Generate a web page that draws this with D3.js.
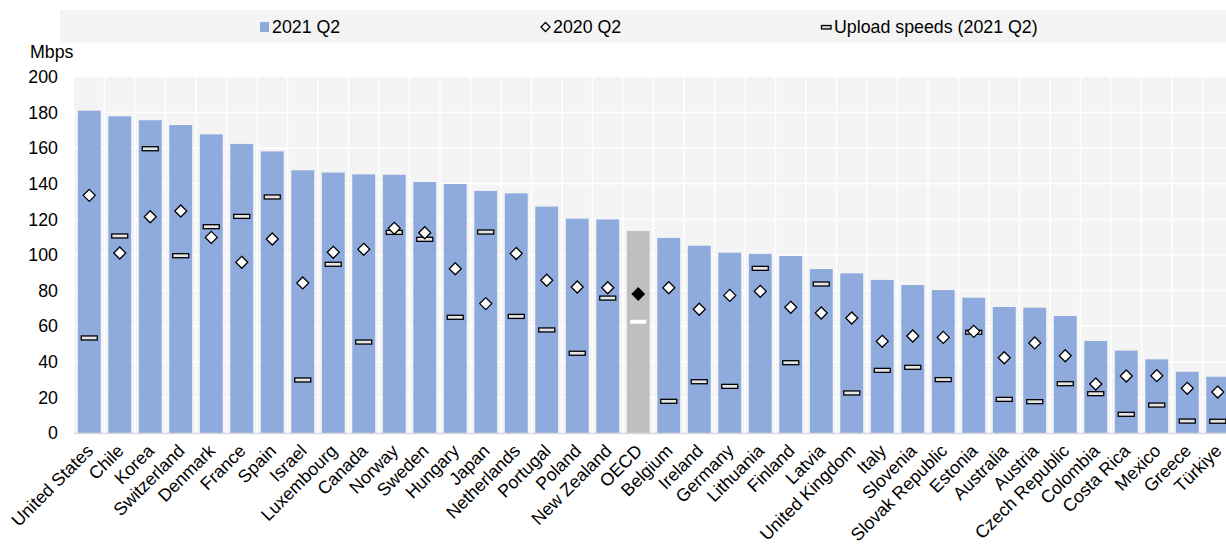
<html>
<head>
  <title>Download speeds</title>
  <meta charset="utf-8" />
<script src="https://d3js.org/d3.v7.min.js"></script>
</head>
<style>
  body { margin: 0; background: #fff; }
  svg { display: block; font-family: "Liberation Sans", Arial, sans-serif; }
</style>
<body>
<svg class="main" width="1226" height="545"></svg>
<script>

// categories, left to right
const countries = ["United States", "Chile", "Korea", "Switzerland", "Denmark", "France", "Spain", "Israel",
  "Luxembourg", "Canada", "Norway", "Sweden", "Hungary", "Japan", "Netherlands", "Portugal", "Poland",
  "New Zealand", "OECD", "Belgium", "Ireland", "Germany", "Lithuania", "Finland", "Latvia", "United Kingdom",
  "Italy", "Slovenia", "Slovak Republic", "Estonia", "Australia", "Austria", "Czech Republic", "Colombia",
  "Costa Rica", "Mexico", "Greece", "Türkiye"]

// bars: 2021 Q2 download
const q2_2021 = [181.1, 177.9, 175.7, 173, 167.8, 162.4, 158.2, 147.6, 146.3, 145.3, 145.1, 141, 139.9, 136,
  134.6, 127.2, 120.4, 120, 113.5, 109.6, 105.2, 101.3, 100.6, 99.4, 92.1, 89.7, 86, 83.1, 80.3, 76, 70.8,
  70.4, 65.7, 51.7, 46.3, 41.4, 34.4, 31.6]

// diamonds: 2020 Q2 download
const q2_2020 = [133.5, 101.1, 121.5, 124.7, 109.9, 95.9, 109, 84.3, 101.5, 103.2, 115, 112.5, 92.3, 72.7,
  100.8, 85.8, 82, 81.6, 78.1, 81.6, 69.5, 77.3, 79.6, 70.6, 67.4, 64.6, 51.5, 54.5, 53.7, 57.1, 42.3, 50.6,
  43.4, 27.5, 32, 32.2, 25.1, 23]

// dashes: upload 2021 Q2
const upload = [53.4, 110.7, 159.7, 99.6, 115.9, 121.7, 132.6, 29.8, 94.8, 51.1, 112.7, 108.8, 65, 112.9,
  65.5, 57.9, 44.8, 75.8, 62.5, 17.8, 28.8, 26.2, 92.5, 39.5, 83.7, 22.5, 35.2, 36.9, 30, 56.6, 18.9, 17.6,
  27.7, 22.1, 10.5, 15.7, 6.7, 6.6]

const yTicks = [0, 20, 40, 60, 80, 100, 120, 140, 160, 180, 200]
const legendItems = ["2021 Q2", "2020 Q2", "Upload speeds (2021 Q2)"]

const data = countries.map((c, i) => ({ c, v21: q2_2021[i], v20: q2_2020[i], up: upload[i] }))

const left = 74, step = 30.5
const fs = "17.8px"
const x = d3.scaleBand()
  .domain(countries)
  .range([left, left + countries.length * step])
  .paddingInner(0.25)
  .paddingOuter(0.125)

const y = d3.scaleLinear().domain([0, 200]).range([433, 77])

const svg = d3.select("svg")

// legend
svg.append("rect")
  .attr("x", 60).attr("y", 10).attr("width", 1166).attr("height", 33)
  .style("fill", "#f4f4f4")

const lg = svg.append("g").style("font-size", fs)
lg.append("rect").attr("x", 260).attr("y", 22).attr("width", 9).attr("height", 10).style("fill", "#8faadc")
lg.append("text").attr("x", 272).attr("y", 33).text(legendItems[0])
lg.append("path").attr("d", "M545.5,22.5 L550,27 L545.5,31.5 L541,27 Z")
  .style("fill", "#fff").style("stroke", "#000").style("stroke-width", 1.3)
lg.append("text").attr("x", 553).attr("y", 33).text(legendItems[1])
lg.append("rect").attr("x", 821.5).attr("y", 25.5).attr("width", 9.5).attr("height", 3.5)
  .style("fill", "#d9d9d9").style("stroke", "#000").style("stroke-width", 1.3)
lg.append("text").attr("x", 834).attr("y", 33).text(legendItems[2])

// plot background + grid
svg.append("rect")
  .attr("x", left).attr("y", y(200))
  .attr("width", countries.length * step).attr("height", y(0) - y(200))
  .style("fill", "#f4f4f4")

svg.append("g")
  .selectAll("line")
  .data(yTicks.filter(t => t > 0 && t < 200))
  .enter()
  .append("line")
  .attr("x1", left).attr("x2", left + countries.length * step)
  .attr("y1", d => y(d)).attr("y2", d => y(d))
  .style("stroke", "#fff").style("stroke-width", 1.5)

svg.append("g")
  .selectAll("line")
  .data(countries.slice(1))
  .enter()
  .append("line")
  .attr("x1", d => x(d) - step * 0.125).attr("x2", d => x(d) - step * 0.125)
  .attr("y1", y(200)).attr("y2", y(0))
  .style("stroke", "#fff").style("stroke-width", 1.5)

// bars
svg.append("g")
  .selectAll("rect")
  .data(data)
  .enter()
  .append("rect")
  .attr("x", d => x(d.c))
  .attr("width", x.bandwidth())
  .attr("y", d => y(d.v21))
  .attr("height", d => y(0) - y(d.v21))
  .style("fill", d => d.c === "OECD" ? "#bfbfbf" : "#8faadc")

// baseline
svg.append("line")
  .attr("x1", left).attr("x2", left + countries.length * step)
  .attr("y1", y(0) + 0.5).attr("y2", y(0) + 0.5)
  .style("stroke", "#d9d9d9").style("stroke-width", 1.5)

// upload dashes
svg.append("g")
  .selectAll("rect")
  .data(data)
  .enter()
  .append("rect")
  .attr("x", d => x(d.c) + x.bandwidth() / 2 - 8)
  .attr("y", d => y(d.up) - 2)
  .attr("width", 16).attr("height", 4)
  .style("fill", d => d.c === "OECD" ? "#fff" : "#e6e6e6")
  .style("stroke", d => d.c === "OECD" ? "none" : "#000")
  .style("stroke-width", 1.3)

// 2020 diamonds
const dia = "M0,-6 L6,0 L0,6 L-6,0 Z"
svg.append("g")
  .selectAll("path")
  .data(data)
  .enter()
  .append("path")
  .attr("d", dia)
  .attr("transform", d => `translate(${x(d.c) + x.bandwidth() / 2},${y(d.v20)})`)
  .style("fill", d => d.c === "OECD" ? "#000" : "#fff")
  .style("stroke", "#000")
  .style("stroke-width", 1.3)

// y axis labels
svg.append("g")
  .selectAll("text")
  .data(yTicks)
  .enter()
  .append("text")
  .attr("x", 58)
  .attr("y", d => y(d))
  .attr("dy", "0.35em")
  .attr("text-anchor", "end")
  .style("font-size", fs)
  .text(d => d)

svg.append("text")
  .attr("x", 30).attr("y", 58)
  .style("font-size", fs)
  .text("Mbps")

// x labels
svg.append("g")
  .selectAll("text")
  .data(countries)
  .enter()
  .append("text")
  .attr("text-anchor", "end")
  .attr("transform", d => `translate(${x(d) + x.bandwidth() / 2 + 5},${452}) rotate(-45)`)
  .style("font-size", fs)
  .text(d => d)

</script>
</body>
</html>
